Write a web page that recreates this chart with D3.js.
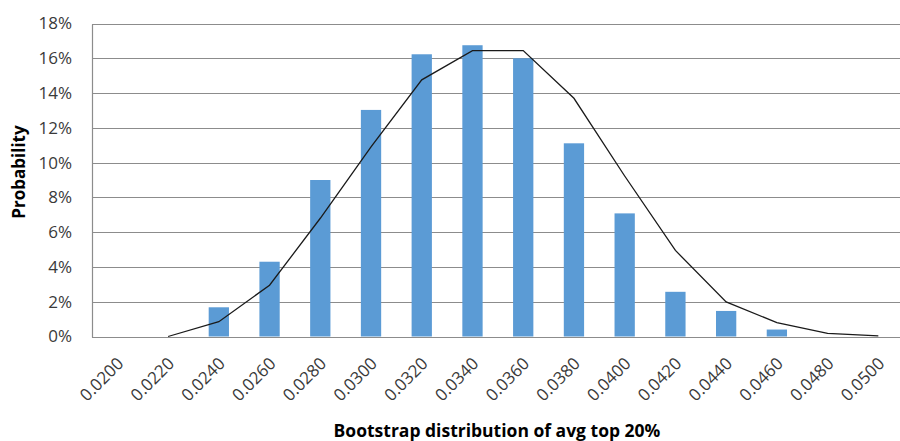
<!DOCTYPE html>
<html>
<head>
<meta charset="utf-8">
<script src="https://cdn.jsdelivr.net/npm/d3@7"></script>
<style>
  html, body { margin: 0; padding: 0; background: #fff; }
  svg { display: block; }
</style>
</head>
<body>
<svg id="chart" width="900" height="441"></svg>
<script>
const categories = ["0.0200","0.0220","0.0240","0.0260","0.0280","0.0300","0.0320","0.0340","0.0360","0.0380","0.0400","0.0420","0.0440","0.0460","0.0480","0.0500"];
const barValues  = [0, 0, 0.0168, 0.043, 0.090, 0.1303, 0.1623, 0.1675, 0.160, 0.1111, 0.0708, 0.0257, 0.0147, 0.0040, 0, 0];
const lineValues = [null, 0, 0.0085, 0.0295, 0.068, 0.109, 0.1476, 0.1644, 0.1644, 0.137, 0.0923, 0.0495, 0.0199, 0.0080, 0.0018, 0.0004];
const yTicks = [0, 0.02, 0.04, 0.06, 0.08, 0.10, 0.12, 0.14, 0.16, 0.18];
const xTitle = "Bootstrap distribution of avg top 20%";
const yTitle = "Probability";

(function () {
const svg = d3.select("#chart");
const pLeft = 92, pRight = 903.7, pTop = 23.5, pBottom = 336.5;

const x = d3.scaleBand().domain(categories).range([pLeft, pRight]).paddingInner(0.6).paddingOuter(0.3);
const y = d3.scaleLinear().domain([0, 0.18]).range([pBottom, pTop]);

// gridlines
svg.append("g").selectAll("line").data(yTicks).join("line")
  .attr("x1", pLeft).attr("x2", pRight)
  .attr("y1", d => Math.round(y(d)) + 0.5).attr("y2", d => Math.round(y(d)) + 0.5)
  .attr("stroke", "#8c8c8c").attr("stroke-width", 1.2);

// y axis line
svg.append("line").attr("x1", pLeft + 0.5).attr("x2", pLeft + 0.5)
  .attr("y1", Math.round(y(0.18)) + 0.5).attr("y2", Math.round(y(0)) + 0.5)
  .attr("stroke", "#8c8c8c").attr("stroke-width", 1.2);

// y tick labels
const yAxis = d3.axisLeft(y).tickValues(yTicks).tickFormat(d3.format(".0%")).tickSize(0).tickPadding(20);
const gy = svg.append("g").attr("transform", `translate(${pLeft},0)`).call(yAxis);
gy.select(".domain").remove();
gy.selectAll("text").attr("font-family", "Open Sans, sans-serif").attr("font-size", "17px").attr("fill", "#3a3a3a");

// bars
svg.append("g").selectAll("rect").data(categories.map((c, i) => ({c, v: barValues[i]}))).join("rect")
  .attr("x", d => x(d.c)).attr("width", x.bandwidth())
  .attr("y", d => y(d.v)).attr("height", d => y(0) - y(d.v))
  .attr("fill", "#5b9bd5");

// line
const line = d3.line()
  .defined(d => d.v !== null)
  .x(d => x(d.c) + x.bandwidth() / 2)
  .y(d => y(d.v));
svg.append("path").datum(categories.map((c, i) => ({c, v: lineValues[i]})))
  .attr("d", line).attr("fill", "none").attr("stroke", "#1a1a1a").attr("stroke-width", 1.3);

// x tick labels
const xAxis = d3.axisBottom(x).tickSize(0).tickPadding(0);
const gx = svg.append("g").attr("transform", `translate(0,${pBottom})`).call(xAxis);
gx.select(".domain").remove();
gx.selectAll("text")
  .attr("font-family", "Open Sans, sans-serif").attr("font-size", "17px").attr("fill", "#3a3a3a")
  .attr("text-anchor", "end").attr("dy", "0.35em")
  .attr("transform", "translate(3,24) rotate(-45)");

// axis titles
svg.append("text").attr("x", 497).attr("y", 437).attr("text-anchor", "middle")
  .attr("font-family", "Open Sans, sans-serif").attr("font-weight", "bold").attr("font-size", "17.5px")
  .attr("fill", "#000").text(xTitle);
svg.append("text").attr("transform", "translate(25,172) rotate(-90)").attr("text-anchor", "middle")
  .attr("font-family", "Open Sans, sans-serif").attr("font-weight", "bold").attr("font-size", "17px")
  .attr("fill", "#000").text(yTitle);
})();
</script>
</body>
</html>
